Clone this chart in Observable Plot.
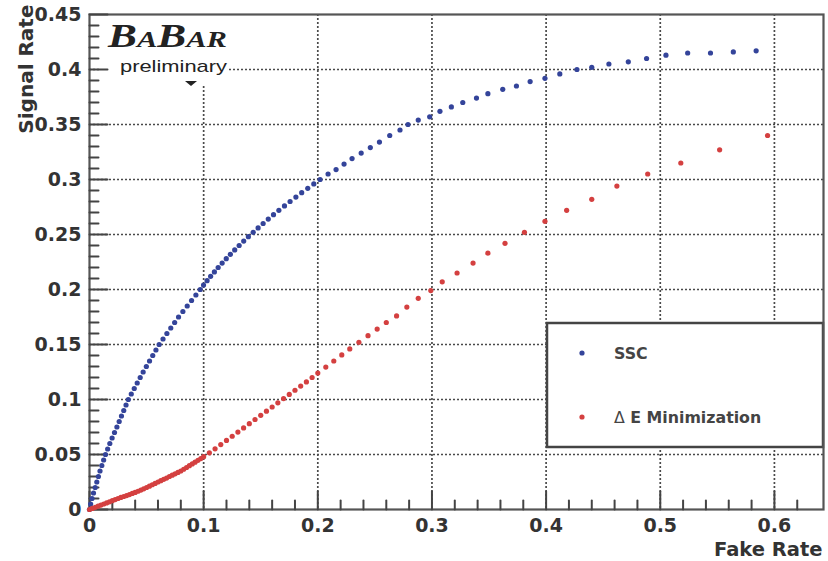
<!DOCTYPE html>
<html><head><meta charset="utf-8">
<script src="https://cdn.jsdelivr.net/npm/d3@7"></script>
<script src="https://cdn.jsdelivr.net/npm/@observablehq/plot@0.6"></script>
<style>html,body{margin:0;padding:0;background:#fff;} svg{display:block}</style>
</head><body><div id="chart"></div>
<script>
// ---- data ----
const seriesNames = ["SSC", "Δ E Minimization"];
const seriesColors = ["#34449a", "#d44040"];

const sscX = [0,0.001,0.0022,0.0035,0.005,0.0064,0.0078,0.0092,0.0108,0.0124,0.014,0.0159,0.0178,0.0198,0.0219,0.024,0.026,0.028,0.030,0.032,0.034,
  0.0366,0.0392,0.0418,0.0444,0.047,0.0498,0.0526,0.0554,0.0582,0.061,0.0644,0.0678,0.0712,0.0746,0.078,0.0818,0.0856,0.0894,0.0932,0.097,
  0.0999,0.1030,0.1061,0.1094,0.1127,0.1162,0.1198,0.1234,0.1272,0.1311,0.1351,0.1392,0.1434,0.1477,0.1521,0.1566,0.1612,0.1659,0.1708,0.1757,0.1808,0.1859,0.1912,0.1965,0.2020,
  0.209,0.216,0.223,0.230,0.238,0.246,0.254,0.263,0.272,
  0.279,0.288,0.298,0.307,0.317,0.327,0.339,0.349,0.362,0.374,0.386,0.399,0.412,0.427,0.440,0.455,0.472,0.488,0.505,0.524,0.544,0.564,0.584];
const sscY = [0,0.005,0.010,0.015,0.020,0.025,0.030,0.035,0.040,0.045,0.050,0.055,0.060,0.065,0.070,0.075,0.080,0.085,0.090,0.095,0.100,
  0.105,0.110,0.115,0.120,0.125,0.130,0.135,0.140,0.145,0.150,0.155,0.160,0.165,0.170,0.175,0.180,0.185,0.190,0.195,0.200,
  0.204,0.208,0.212,0.216,0.220,0.224,0.228,0.232,0.236,0.240,0.244,0.248,0.252,0.256,0.260,0.264,0.268,0.272,0.276,0.280,0.284,0.288,0.292,0.296,0.300,
  0.305,0.309,0.314,0.319,0.324,0.329,0.334,0.340,0.345,
  0.350,0.354,0.357,0.362,0.366,0.370,0.374,0.378,0.382,0.385,0.389,0.392,0.396,0.400,0.402,0.405,0.407,0.410,0.413,0.415,0.415,0.416,0.417];

const demX = [0,0.0025,0.005,0.0075,0.010,0.0125,0.015,0.0175,0.020,0.0225,0.025,0.0275,0.030,0.0325,0.035,0.0375,0.040,0.0425,0.045,0.0475,0.050,
  0.0525,0.055,0.0575,0.060,0.0625,0.065,0.0675,0.070,0.0725,0.075,0.0775,0.080,0.0825,0.085,0.0875,0.090,0.0925,0.095,0.0975,0.100,
  0.105,0.110,0.115,0.120,0.125,0.130,0.135,0.140,0.145,0.150,0.155,0.160,0.165,0.170,0.175,0.180,0.185,0.190,0.195,0.200,
  0.207,0.214,0.221,0.228,0.236,0.244,0.252,
  0.260,0.269,0.278,0.288,0.299,0.309,0.322,0.336,0.349,0.364,0.381,0.399,0.418,0.440,0.462,0.489,0.518,0.552,0.594];
const demY = [0,0.001,0.002,0.003,0.004,0.005,0.006,0.007,0.008,0.009,0.010,0.011,0.0118,0.0127,0.0136,0.0146,0.0155,0.0166,0.0177,0.0188,0.020,
  0.0212,0.0225,0.0237,0.025,0.0262,0.0274,0.0286,0.030,0.0312,0.0324,0.0337,0.035,0.0366,0.0382,0.0398,0.0414,0.0430,0.0447,0.0463,0.048,
  0.0515,0.0552,0.059,0.0628,0.0666,0.0704,0.0742,0.078,0.0818,0.0856,0.0894,0.0932,0.097,0.1008,0.1046,0.1084,0.1122,0.116,0.120,0.124,
  0.1295,0.135,0.1405,0.146,0.152,0.158,0.164,
  0.170,0.176,0.184,0.192,0.199,0.207,0.215,0.224,0.233,0.242,0.252,0.262,0.272,0.282,0.294,0.305,0.315,0.327,0.340];

const xTicks = [0,0.1,0.2,0.3,0.4,0.5,0.6];
const xTickLabels = ["0","0.1","0.2","0.3","0.4","0.5","0.6"];
const yTicks = [0,0.05,0.1,0.15,0.2,0.25,0.3,0.35,0.4,0.45];
const yTickLabels = ["0","0.05","0.1","0.15","0.2","0.25","0.3","0.35","0.4","0.45"];
const xMinor = [0.02,0.04,0.06,0.08,0.12,0.14,0.16,0.18,0.22,0.24,0.26,0.28,0.32,0.34,0.36,0.38,0.42,0.44,0.46,0.48,0.52,0.54,0.56,0.58,0.62];
const yMinor = [0.01,0.02,0.03,0.04,0.06,0.07,0.08,0.09,0.11,0.12,0.13,0.14,0.16,0.17,0.18,0.19,0.21,0.22,0.23,0.24,0.26,0.27,0.28,0.29,0.31,0.32,0.33,0.34,0.36,0.37,0.38,0.39,0.41,0.42,0.43,0.44];
const xTitle = "Fake Rate";
const yTitle = "Signal Rate";

// ---- table for the library ----
const points = [
  ...sscX.map((x, i) => ({x, y: sscY[i], series: seriesNames[0]})),
  ...demX.map((x, i) => ({x, y: demY[i], series: seriesNames[1]}))
];

const tickShape = {draw(ctx, l) { ctx.moveTo(0, 0); ctx.lineTo(0, -l); }};
const font = "DejaVu Sans";
const gridStyle = {stroke: "#4a4a4a", strokeWidth: 1.7, strokeDasharray: "2,2", strokeOpacity: 1};
const tickStyle = {stroke: "#444", strokeWidth: 2, anchor: "start", shape: tickShape};

function logoMark(index, scales, values, dims) {
  const L = dims.marginLeft, T = dims.marginTop;
  const g = d3.create("svg:g").attr("text-anchor", "start");
  g.append("rect").attr("x", L + 11).attr("y", T + 1).attr("width", 127).attr("height", 69).attr("fill", "white");
  const t = g.append("text").attr("x", L + 19).attr("y", T + 33).attr("text-anchor", "start")
    .attr("font-family", "Liberation Serif").attr("font-style", "italic").attr("font-weight", "bold")
    .attr("fill", "#222").attr("textLength", 119).attr("lengthAdjust", "spacingAndGlyphs");
  t.append("tspan").attr("font-size", 34).text("B");
  t.append("tspan").attr("font-size", 24).text("A");
  t.append("tspan").attr("font-size", 34).text("B");
  t.append("tspan").attr("font-size", 24).text("AR");
  g.append("text").attr("x", L + 31).attr("y", T + 58).attr("text-anchor", "start")
    .attr("font-family", "Liberation Sans").attr("font-size", 17).attr("fill", "#222")
    .attr("textLength", 107).attr("lengthAdjust", "spacingAndGlyphs").text("preliminary");
  g.append("path").attr("d", `M${L + 96},${T + 67}h12l-6,5z`).attr("fill", "#222");
  return g.node();
}

function legendMark(index, scales, values, dims) {
  const L = dims.marginLeft, T = dims.marginTop;
  const right = dims.width - dims.marginRight;
  const x0 = L + 458, y0 = T + 309;
  const g = d3.create("svg:g").attr("text-anchor", "start");
  g.append("rect").attr("x", x0).attr("y", y0).attr("width", right - x0).attr("height", 124)
    .attr("fill", "white").attr("stroke", "#444").attr("stroke-width", 2.5);
  const rows = [y0 + 30, y0 + 94];
  seriesNames.forEach((name, i) => {
    g.append("circle").attr("cx", x0 + 35).attr("cy", rows[i]).attr("r", 2.6).attr("fill", seriesColors[i]);
    const t = g.append("text").attr("x", x0 + 67).attr("y", rows[i]).attr("dy", "0.36em").attr("text-anchor", "start")
      .attr("font-family", font).attr("font-size", 15.8).attr("font-weight", "bold").attr("fill", "#444");
    if (name.startsWith("Δ")) {
      t.append("tspan").attr("font-weight", "normal").text("Δ");
      t.append("tspan").text(name.slice(1));
    } else t.text(name);
  });
  return g.node();
}

const chart = Plot.plot({
  width: 828,
  height: 561,
  marginLeft: 89,
  marginRight: 5,
  marginTop: 14,
  marginBottom: 52,
  style: {background: "white", fontFamily: font},
  x: {domain: [0, 0.643], axis: null},
  y: {domain: [0, 0.45], axis: null},
  color: {domain: seriesNames, range: seriesColors},
  marks: [
    Plot.ruleX(xTicks.filter(d => d > 0), {x: d => d, ...gridStyle}),
    Plot.ruleY(yTicks.filter(d => d > 0 && d < 0.45), {y: d => d, ...gridStyle}),
    logoMark,
    legendMark,
    Plot.frame({stroke: "#555", strokeWidth: 2.2}),
    Plot.vector(xMinor, {x: d => d, frameAnchor: "bottom", length: 9, rotate: 0, ...tickStyle}),
    Plot.vector(xTicks, {x: d => d, frameAnchor: "bottom", length: 18, rotate: 0, ...tickStyle}),
    Plot.vector(yMinor, {y: d => d, frameAnchor: "left", length: 9, rotate: 90, ...tickStyle}),
    Plot.vector(yTicks, {y: d => d, frameAnchor: "left", length: 18, rotate: 90, ...tickStyle}),
    Plot.text(xTicks, {x: d => d, frameAnchor: "bottom", lineAnchor: "top", dy: 9,
      text: (d, i) => xTickLabels[i], fontSize: 19, fontWeight: "bold", fill: "#333"}),
    Plot.text(yTicks, {y: d => d, frameAnchor: "left", textAnchor: "end", dx: -8,
      text: (d, i) => yTickLabels[i], fontSize: 19, fontWeight: "bold", fill: "#333"}),
    Plot.dot(points, {x: "x", y: "y", fill: "series", r: 2.6}),
    Plot.text([xTitle], {frameAnchor: "bottom-right", textAnchor: "end", lineAnchor: "middle", dy: 40, dx: -1,
      text: d => d, fontSize: 19.5, fontWeight: "bold", fill: "#333"}),
    Plot.text([yTitle], {frameAnchor: "top-left", textAnchor: "end", lineAnchor: "middle", rotate: -90, dx: -63, dy: -10,
      text: d => d, fontSize: 20, fontWeight: "bold", fill: "#333"})
  ]
});
document.getElementById("chart").appendChild(chart);
</script>
</body></html>
